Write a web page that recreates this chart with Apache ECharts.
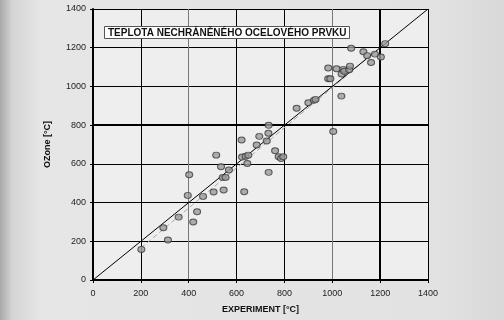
<!DOCTYPE html>
<html>
<head>
<meta charset="utf-8">
<script src="https://cdn.jsdelivr.net/npm/echarts@6/dist/echarts.min.js"></script>
<style>
html, body { margin: 0; padding: 0; }
body { background: linear-gradient(90deg, #a9a9a9 0px, #d4d4d4 12px, #e6e6e6 40px, #e2e2e2 440px, #d8d8d8 504px); }
#container { width: 504px; height: 320px; }
</style>
</head>
<body>
<div id="container"></div>
<script>
// osa a popisky
var axisTicks = [0, 200, 400, 600, 800, 1000, 1200, 1400];
var titleText = 'TEPLOTA NECHRÁNĚNÉHO OCELOVÉHO PRVKU';
// měřené body: [experiment, OZone]
var experiment = [202, 294, 313, 358, 396, 402, 419, 435, 460, 504, 515, 535, 542, 546, 554, 568,
	621, 623, 632, 638, 645, 649, 684, 695, 726, 733, 734, 734, 761, 776, 786, 795,
	851, 900, 923, 930, 983, 983, 992, 1004, 1018, 1038, 1039, 1046, 1050, 1071, 1074, 1079,
	1130, 1146, 1162, 1178, 1203, 1221];
var ozone = [158, 270, 207, 325, 437, 544, 300, 353, 432, 455, 645, 585, 530, 465, 530, 568,
	723, 635, 456, 639, 602, 645, 697, 742, 718, 758, 799, 556, 668, 637, 628, 637,
	887, 916, 928, 933, 1095, 1040, 1040, 767, 1091, 950, 1064, 1088, 1078, 1086, 1105, 1197,
	1179, 1159, 1124, 1167, 1152, 1221];
// přímka y = x a trend (odhad z obrázku)
var idealLine = [[0, 0], [1400, 1400]];
var trendLine = [[200, 165], [1170, 1170]];

var points = [];
for (var i = 0; i < experiment.length; i++) {
	points.push([experiment[i], ozone[i]]);
}

var dom = document.getElementById('container');
var myChart = echarts.init(dom);
var font = 'Arial, "Liberation Sans", sans-serif';

function tickLabel(v) {
	return String(v);
}

myChart.setOption({
	animation: false,
	backgroundColor: 'transparent',
	title: {
		text: titleText,
		left: 104,
		top: 26,
		padding: [2, 3, 1, 4],
		backgroundColor: '#ffffff',
		borderColor: '#555',
		borderWidth: 1,
		textStyle: { fontFamily: font, fontSize: 10, fontWeight: 'bold', color: '#111' }
	},
	grid: {
		left: 93, right: 76, top: 9, bottom: 40,
		show: true,
		backgroundColor: '#eeeeee',
		borderWidth: 0
	},
	xAxis: {
		type: 'value',
		min: axisTicks[0],
		max: axisTicks[axisTicks.length - 1],
		interval: 200,
		name: 'EXPERIMENT [°C]',
		nameLocation: 'middle',
		nameGap: 25,
		nameTextStyle: { fontFamily: font, fontSize: 9, fontWeight: 'bold', color: '#111' },
		axisLine: { lineStyle: { color: '#000', width: 2 } },
		axisTick: { show: true, length: 3, lineStyle: { color: '#000' } },
		axisLabel: { fontFamily: font, fontSize: 9, color: '#222', margin: 9, formatter: tickLabel },
		splitLine: { show: true, lineStyle: { color: ['#000', '#000', '#777', '#000', '#000', '#777', '#000', '#000'], width: 1 } }
	},
	yAxis: {
		type: 'value',
		min: axisTicks[0],
		max: axisTicks[axisTicks.length - 1],
		interval: 200,
		name: 'OZone [°C]',
		nameLocation: 'middle',
		nameGap: 41,
		nameRotate: 90,
		nameTextStyle: { fontFamily: font, fontSize: 9, fontWeight: 'bold', color: '#111' },
		axisLine: { lineStyle: { color: '#000', width: 2 } },
		axisTick: { show: true, length: 3, lineStyle: { color: '#000' } },
		axisLabel: { fontFamily: font, fontSize: 9, color: '#222', margin: 7, formatter: tickLabel },
		splitLine: { show: true, lineStyle: { color: '#000', width: 1 } }
	},
	series: [{
		type: 'line',
		data: idealLine,
		symbol: 'none',
		lineStyle: { color: '#000', width: 1 },
		z: 3,
		markLine: {
			silent: true,
			symbol: 'none',
			label: { show: false },
			lineStyle: { color: '#000', width: 2, type: 'solid' },
			data: [{ xAxis: 1200 }, { yAxis: 800 }]
		}
	}, {
		type: 'line',
		data: trendLine,
		symbol: 'none',
		lineStyle: { color: '#aaa', width: 1, type: [5, 3] },
		z: 2
	}, {
		type: 'scatter',
		data: points,
		symbol: 'circle',
		symbolSize: [7, 6],
		itemStyle: { color: '#9a9a9a', borderColor: '#3a3a3a', borderWidth: 1 },
		z: 5
	}]
});
</script>
</body>
</html>
